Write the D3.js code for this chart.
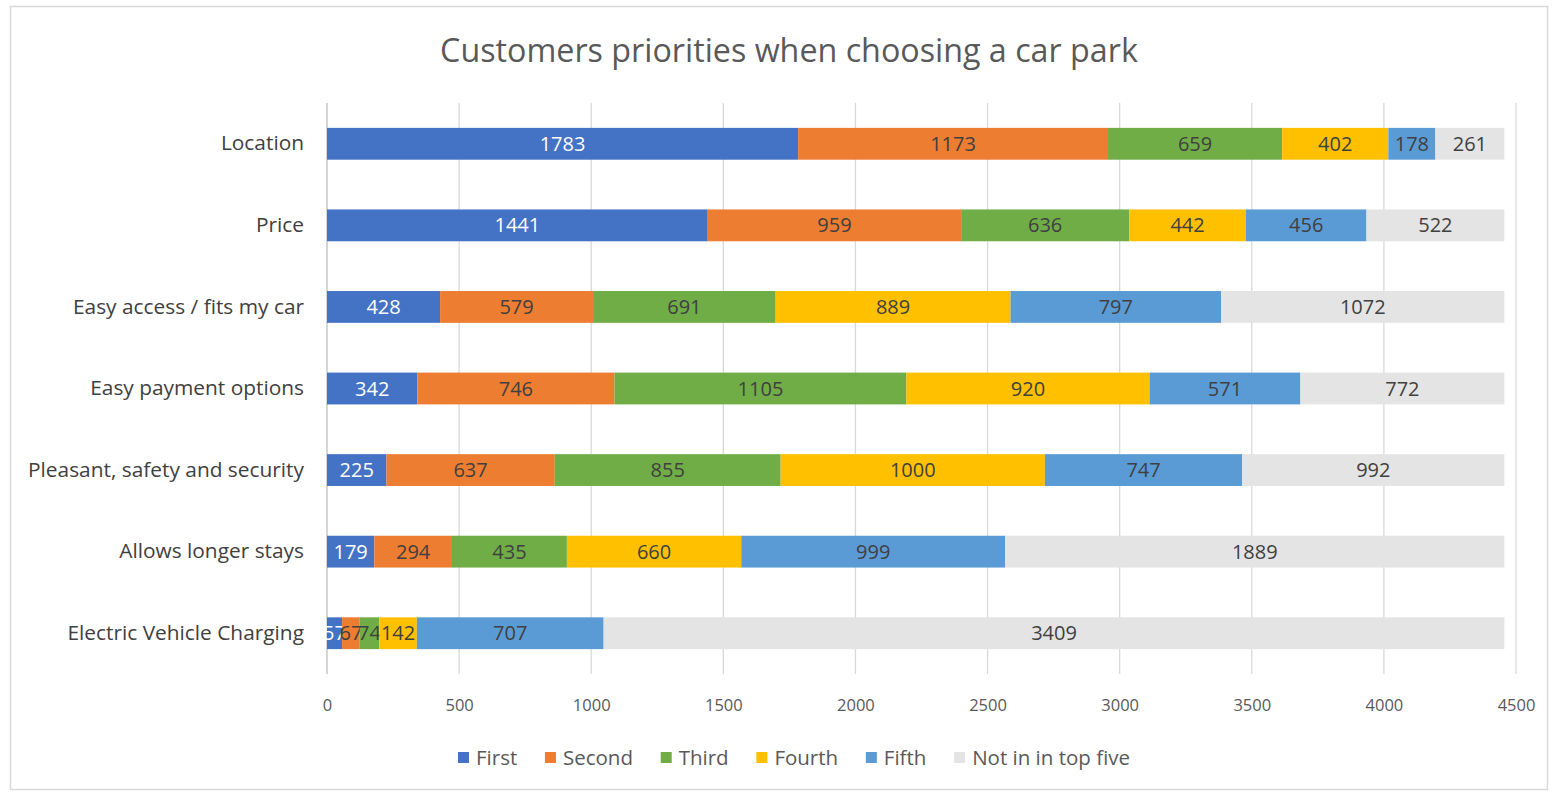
<!DOCTYPE html>
<html><head><meta charset="utf-8">
<script src="https://cdn.jsdelivr.net/npm/d3@7"></script>
<style>body{margin:0;background:#fff;}svg{display:block;}</style>
</head><body>
<svg id="c" width="1553" height="794"></svg>
<script>
const categories = ["Location","Price","Easy access / fits my car","Easy payment options","Pleasant, safety and security","Allows longer stays","Electric Vehicle Charging"];
const seriesNames = ["First","Second","Third","Fourth","Fifth","Not in in top five"];
const first  = [1783,1441,428,342,225,179,57];
const second = [1173,959,579,746,637,294,67];
const third  = [659,636,691,1105,855,435,74];
const fourth = [402,442,889,920,1000,660,142];
const fifth  = [178,456,797,571,747,999,707];
const notTop = [261,522,1072,772,992,1889,3409];
const xTicks = [0,500,1000,1500,2000,2500,3000,3500,4000,4500];
const colors = ["#4472C4","#ED7D31","#70AD47","#FFC000","#5B9BD5","#E4E4E4"];
const labelColors = ["#ffffff","#404040","#404040","#404040","#404040","#404040"];

const seriesVals = [first,second,third,fourth,fifth,notTop];
const rows = categories.map((c,i)=>{const o={cat:c};seriesNames.forEach((s,j)=>o[s]=seriesVals[j][i]);return o;});
const stacked = d3.stack().keys(seriesNames)(rows);

const svg = d3.select("#c");
const font = "'Open Sans', 'Noto Sans', sans-serif";
svg.append("rect").attr("x",10.5).attr("y",6.5).attr("width",1537).attr("height",783)
  .attr("fill","#fff").attr("stroke","#D9D9D9").attr("stroke-width",1.5);

const x = d3.scaleLinear().domain([0,4500]).range([327,1516]);
const y = d3.scaleBand().domain(categories).range([103,674]).paddingInner(0.61).paddingOuter(0.305);

function fit(sel, target){
  const w = sel.node().getComputedTextLength();
  const fs = parseFloat(sel.attr("font-size"));
  sel.attr("font-size", (fs*target/w).toFixed(2));
}

const title = svg.append("text").attr("x",789).attr("y",62).attr("text-anchor","middle")
  .attr("font-family",font).attr("font-size",28).attr("fill","#595959")
  .text("Customers priorities when choosing a car park");
fit(title, 698);

// gridlines
svg.append("g").selectAll("line").data(xTicks).join("line")
  .attr("x1",d=>x(d)).attr("x2",d=>x(d)).attr("y1",103).attr("y2",674)
  .attr("stroke",d=>d===0?"#BFBFBF":"#D9D9D9").attr("stroke-width",1.3);

// x axis
const xa = svg.append("g").attr("transform","translate(0,676)")
  .call(d3.axisBottom(x).tickValues(xTicks).tickSize(0).tickPadding(23).tickFormat(d3.format("d")));
xa.select(".domain").remove();
xa.selectAll("text").attr("font-family",font).attr("font-size",16.5).attr("fill","#595959");

// y axis
const ya = svg.append("g").attr("transform","translate(327,0)")
  .call(d3.axisLeft(y).tickSize(0).tickPadding(23));
ya.select(".domain").remove();
ya.selectAll("text").attr("font-family",font).attr("font-size",18).attr("fill","#404040");
{
  const t = ya.selectAll("text").filter(d=>d==="Pleasant, safety and security");
  const w = t.node().getComputedTextLength();
  ya.selectAll("text").attr("font-size",(18*276/w).toFixed(2));
}

// bars
stacked.forEach((s,si)=>{
  const gg = svg.append("g");
  gg.selectAll("rect").data(s).join("rect")
    .attr("x",d=>x(d[0])).attr("width",d=>x(d[1])-x(d[0]))
    .attr("y",d=>y(d.data.cat)).attr("height",y.bandwidth())
    .attr("fill",colors[si]);
  gg.selectAll("text").data(s).join("text")
    .attr("x",d=>(x(d[0])+x(d[1]))/2).attr("y",d=>y(d.data.cat)+y.bandwidth()/2+7)
    .attr("text-anchor","middle").attr("font-family",font).attr("font-size",20)
    .attr("fill",labelColors[si]).text(d=>d[1]-d[0]);
});

// legend
const leg = svg.append("g");
const legFs = 20.5;
const items = seriesNames.map((s,i)=>{
  const gI = leg.append("g");
  gI.append("rect").attr("x",0).attr("y",-5).attr("width",11).attr("height",11).attr("fill",colors[i]);
  const t = gI.append("text").attr("x",18).attr("y",7.5).attr("font-family",font).attr("font-size",legFs)
    .attr("fill","#595959").text(s);
  return {g:gI, w:18+t.node().getComputedTextLength()};
});
const legTotal = 672;
const gap = (legTotal - d3.sum(items,d=>d.w))/(items.length-1);
let cx = 458;
items.forEach(it=>{ it.g.attr("transform",`translate(${cx},757)`); cx += it.w+gap; });
</script>
</body></html>
